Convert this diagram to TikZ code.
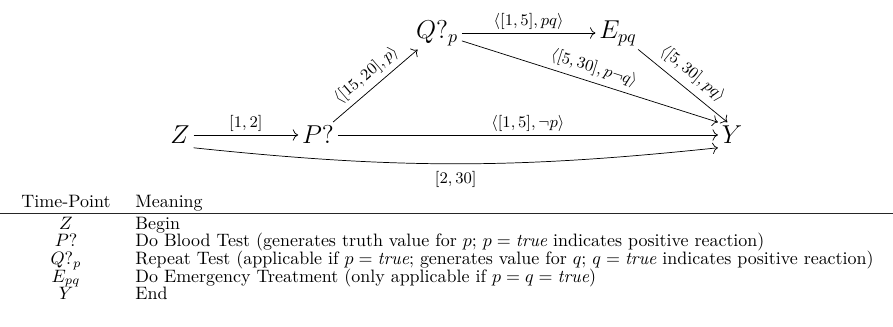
\documentclass[tikz,border=0pt]{standalone}
\usetikzlibrary{arrows.meta}
\begin{document}
\begin{tikzpicture}[x=0.557pt,y=-0.557pt,
  tp/.style={font=\Large, inner sep=2pt},
  lab/.style={font=\small, inner sep=2pt},
  arr/.style={-{To[length=3pt]}, line width=0.4pt},
  cell/.style={inner sep=0pt, anchor=base},
  mcell/.style={inner sep=0pt, anchor=base west}]
\useasboundingbox (0,0) rectangle (893,327);
% diagram nodes
\node[tp] (Z) at (180,135) {$Z$};
\node[tp] (P) at (318,135) {$P?$};
\node[tp] (Q) at (437,33) {$Q?_p$};
\node[tp] (E) at (618,33) {$E_{pq}$};
\node[tp] (Y) at (732,135) {$Y$};
% connectors
\draw[arr] (Z) -- node[lab,above] {$[1,2]$} (P);
\draw[arr] (P) -- node[lab,above] {$\langle[1,5],\neg p\rangle$} (Y);
\draw[arr] (P) -- node[lab,above=1pt,sloped] {$\langle[15,20],p\rangle$} (Q);
\draw[arr] (Q) -- node[lab,above] {$\langle[1,5],pq\rangle$} (E);
\draw[arr] (Q) -- node[lab,above=1pt,sloped,pos=0.5] {$\langle[5,30],p\neg q\rangle$} (Y.north west);
\draw[arr] (E) -- node[lab,above=2pt,sloped] {$\langle[5,30],pq\rangle$} (Y.110);
\draw[arr] (Z.south east) to[bend right=6] node[lab,below=2pt] {$[2,30]$} (Y.south west);
% table
\node[cell] (h1) at (66,207) {Time-Point};
\node[mcell] (h2) at (135,207) {Meaning};
\draw[line width=0.9pt, black!85] (0,213.5) -- (893,213.5);
\node[cell] (t1) at (66,229.5) {$Z$};
\node[mcell] (m1) at (135,229.5) {Begin};
\node[cell] (t2) at (66,247) {$P?$};
\node[mcell] (m2) at (135,247) {Do Blood Test (generates truth value for $p$; $p = \textit{true}$ indicates positive reaction)};
\node[cell] (t3) at (66,264.5) {$Q?_p$};
\node[mcell] (m3) at (135,264.5) {Repeat Test (applicable if $p = \textit{true}$; generates value for $q$; $q = \textit{true}$ indicates positive reaction)};
\node[cell] (t4) at (66,282) {$E_{pq}$};
\node[mcell] (m4) at (135,282) {Do Emergency Treatment (only applicable if $p = q = \textit{true}$)};
\node[cell] (t5) at (66,299.5) {$Y$};
\node[mcell] (m5) at (135,299.5) {End};
\end{tikzpicture}
\end{document}
